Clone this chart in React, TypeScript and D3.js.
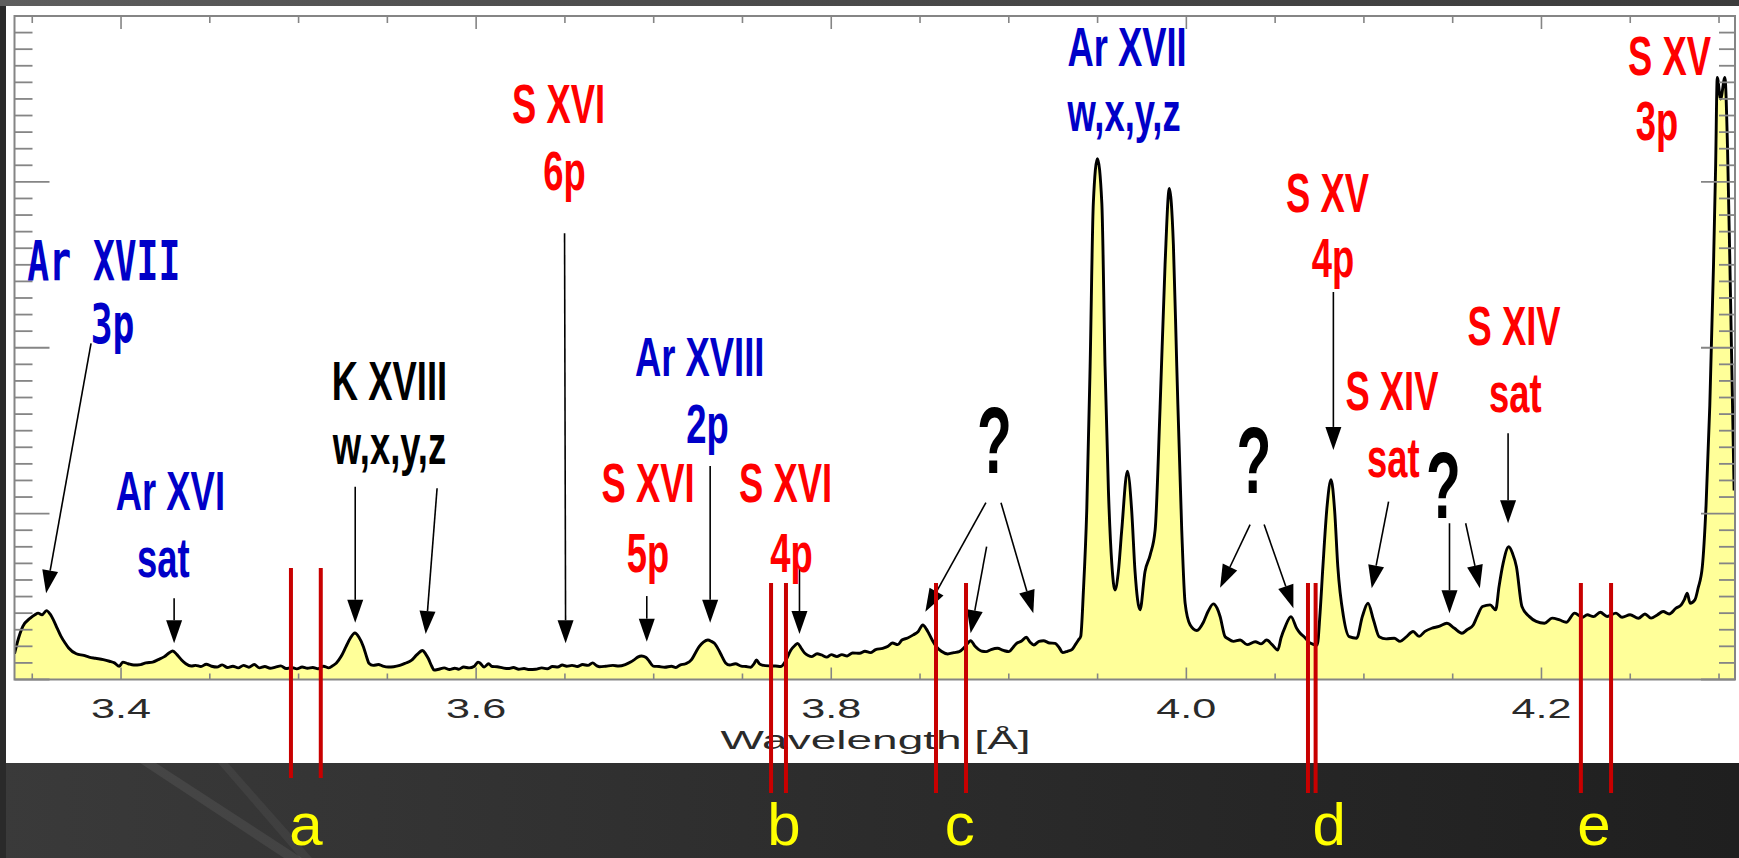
import React from "react";
import * as d3 from "d3";

const WIDTH = 1739;
const HEIGHT = 858;

// Spectrum samples: wavelength in Å and intensity in arbitrary units
const wavelength = [
  3.3400, 3.3415, 3.3447, 3.3489, 3.3515, 3.3533, 3.3555, 3.3580, 3.3600, 3.3619,
  3.3640, 3.3662, 3.3685, 3.3705, 3.3748, 3.3790, 3.3820, 3.3856, 3.3900, 3.3935,
  3.3963, 3.3990, 3.4010, 3.4040, 3.4072, 3.4110, 3.4140, 3.4178, 3.4210, 3.4244,
  3.4270, 3.4291, 3.4315, 3.4341, 3.4365, 3.4395, 3.4420, 3.4450, 3.4480, 3.4510,
  3.4540, 3.4570, 3.4600, 3.4630, 3.4660, 3.4690, 3.4720, 3.4750, 3.4780, 3.4810,
  3.4840, 3.4870, 3.4900, 3.4930, 3.4960, 3.4990, 3.5020, 3.5050, 3.5080, 3.5110,
  3.5140, 3.5170, 3.5195, 3.5213, 3.5240, 3.5267, 3.5292, 3.5317, 3.5340, 3.5365,
  3.5385, 3.5396, 3.5420, 3.5450, 3.5472, 3.5505, 3.5536, 3.5570, 3.5601, 3.5635,
  3.5665, 3.5698, 3.5715, 3.5730, 3.5750, 3.5763, 3.5790, 3.5820, 3.5850, 3.5880,
  3.5901, 3.5930, 3.5960, 3.5990, 3.6010, 3.6021, 3.6045, 3.6070, 3.6090, 3.6118,
  3.6150, 3.6180, 3.6210, 3.6240, 3.6270, 3.6300, 3.6335, 3.6370, 3.6400, 3.6430,
  3.6460, 3.6485, 3.6510, 3.6540, 3.6570, 3.6600, 3.6630, 3.6656, 3.6680, 3.6695,
  3.6730, 3.6770, 3.6803, 3.6840, 3.6870, 3.6889, 3.6910, 3.6932, 3.6955, 3.6975,
  3.6997, 3.7030, 3.7062, 3.7100, 3.7125, 3.7148, 3.7180, 3.7212, 3.7235, 3.7256,
  3.7280, 3.7305, 3.7325, 3.7342, 3.7365, 3.7385, 3.7405, 3.7428, 3.7460, 3.7493,
  3.7520, 3.7547, 3.7565, 3.7579, 3.7595, 3.7611, 3.7650, 3.7686, 3.7715, 3.7740,
  3.7773, 3.7795, 3.7811, 3.7830, 3.7848, 3.7870, 3.7891, 3.7920, 3.7945, 3.7975,
  3.8000, 3.8032, 3.8060, 3.8090, 3.8120, 3.8160, 3.8190, 3.8220, 3.8250, 3.8290,
  3.8320, 3.8345, 3.8375, 3.8398, 3.8430, 3.8462, 3.8490, 3.8516, 3.8535, 3.8549,
  3.8570, 3.8592, 3.8620, 3.8656, 3.8690, 3.8721, 3.8755, 3.8785, 3.8810, 3.8829,
  3.8850, 3.8872, 3.8900, 3.8936, 3.8970, 3.9001, 3.9025, 3.9044, 3.9070, 3.9098,
  3.9120, 3.9141, 3.9170, 3.9195, 3.9230, 3.9260, 3.9285, 3.9303, 3.9330, 3.9357,
  3.9375, 3.9392, 3.9405, 3.9420, 3.9439, 3.9458, 3.9476, 3.9499, 3.9524, 3.9542,
  3.9561, 3.9580, 3.9598, 3.9617, 3.9636, 3.9668, 3.9692, 3.9711, 3.9739, 3.9767,
  3.9796, 3.9824, 3.9852, 3.9880, 3.9904, 3.9927, 3.9946, 3.9974, 3.9993, 4.0021,
  4.0059, 4.0096, 4.0122, 4.0152, 4.0173, 4.0190, 4.0218, 4.0230, 4.0265, 4.0303,
  4.0342, 4.0388, 4.0421, 4.0452, 4.0483, 4.0515, 4.0533, 4.0557, 4.0589, 4.0621,
  4.0640, 4.0663, 4.0697, 4.0737, 4.0753, 4.0769, 4.0793, 4.0815, 4.0835, 4.0853,
  4.0885, 4.0917, 4.0959, 4.0991, 4.1023, 4.1054, 4.1086, 4.1125, 4.1171, 4.1204,
  4.1237, 4.1277, 4.1311, 4.1344, 4.1382, 4.1423, 4.1467, 4.1508, 4.1552, 4.1581,
  4.1616, 4.1638, 4.1668, 4.1711, 4.1742, 4.1761, 4.1784, 4.1816, 4.1837, 4.1859,
  4.1890, 4.1932, 4.1970, 4.2017, 4.2060, 4.2102, 4.2139, 4.2187, 4.2229, 4.2258,
  4.2293, 4.2331, 4.2370, 4.2420, 4.2454, 4.2499, 4.2546, 4.2583, 4.2617, 4.2652,
  4.2685, 4.2719, 4.2758, 4.2787, 4.2804, 4.2821, 4.2837, 4.2864, 4.2882, 4.2906,
  4.2927, 4.2948, 4.2969, 4.2981, 4.2990, 4.3009, 4.3033, 4.3048, 4.3065, 4.3085,
];

const intensity = [
  1.55, 2.2, 3.2, 3.7, 3.9, 4.0, 3.9, 4.15, 3.95, 3.6,
  3.1, 2.6, 2.2, 1.9, 1.55, 1.45, 1.35, 1.28, 1.2, 1.1,
  1.0, 0.8, 1.05, 0.95, 0.87, 0.9, 1.0, 1.05, 1.2, 1.38,
  1.6, 1.72, 1.5, 1.18, 0.95, 0.81, 0.85, 0.78, 0.92, 0.8,
  0.75, 0.88, 0.72, 0.8, 0.7, 0.85, 0.74, 0.9, 0.7, 0.78,
  0.68, 0.75, 0.82, 0.66, 0.72, 0.64, 0.75, 0.68, 0.72, 0.65,
  0.8, 0.7, 0.85, 1.0, 1.4, 1.98, 2.5, 2.8, 2.55, 1.98,
  1.3, 0.98, 0.85, 0.9, 0.82, 0.75, 0.77, 0.85, 0.98, 1.15,
  1.48, 1.75, 1.55, 1.28, 0.8, 0.57, 0.62, 0.7, 0.6, 0.68,
  0.62, 0.75, 0.7, 0.8, 1.05, 1.0, 0.75, 0.95, 0.78, 0.77,
  0.7, 0.66, 0.72, 0.62, 0.66, 0.6, 0.62, 0.7, 0.65, 0.78,
  0.75, 0.87, 0.8, 0.85, 0.78, 0.9, 0.85, 1.0, 0.82, 0.77,
  0.8, 0.85, 0.81, 0.9, 1.05, 1.18, 1.35, 1.42, 1.34, 1.1,
  0.81, 0.78, 0.74, 0.8, 0.72, 0.87, 0.95, 1.18, 1.6, 1.98,
  2.25, 2.38, 2.3, 2.18, 1.8, 1.38, 1.0, 0.87, 0.95, 0.81,
  0.78, 0.74, 0.95, 1.18, 0.95, 0.87, 0.82, 0.81, 0.78, 1.07,
  1.78, 2.05, 2.18, 1.9, 1.62, 1.45, 1.38, 1.55, 1.48, 1.35,
  1.5, 1.38, 1.5, 1.42, 1.6, 1.58, 1.7, 1.62, 1.8, 1.88,
  2.0, 2.2, 2.1, 2.38, 2.5, 2.69, 2.9, 3.29, 3.05, 2.79,
  2.35, 1.98, 1.7, 1.54, 1.62, 1.68, 2.0, 2.34, 2.0, 1.82,
  1.7, 1.68, 1.8, 1.88, 1.75, 1.68, 1.95, 2.18, 2.3, 2.55,
  2.25, 2.08, 2.3, 2.34, 2.2, 2.18, 1.9, 1.62, 1.7, 1.82,
  2.1, 2.38, 2.6, 5.3, 10.2, 18.9, 28.7, 31.4, 28.7, 18.9,
  11.4, 7.0, 5.4, 6.5, 9.0, 12.56, 10.2, 6.5, 4.2, 6.5,
  7.5, 9.0, 16.4, 25.0, 29.6, 26.2, 18.9, 9.0, 4.6, 3.3,
  2.95, 3.45, 4.1, 4.56, 4.3, 3.8, 2.58, 2.49, 2.3, 2.38,
  2.1, 2.28, 2.15, 2.38, 2.1, 1.78, 2.5, 3.19, 3.79, 3.09,
  2.8, 2.58, 2.2, 2.08, 4.0, 6.8, 10.5, 12.04, 10.2, 6.8,
  3.79, 2.58, 2.49, 3.79, 4.6, 3.59, 2.58, 2.45, 2.49, 2.3,
  2.55, 2.89, 2.6, 2.9, 3.09, 3.2, 3.39, 3.1, 2.79, 3.0,
  3.29, 3.8, 4.4, 4.5, 4.2, 5.6, 7.0, 8.0, 7.6, 6.8,
  4.4, 3.79, 3.5, 3.39, 3.7, 3.59, 3.45, 4.0, 3.75, 3.9,
  3.79, 4.05, 3.8, 4.0, 3.75, 3.9, 3.69, 3.95, 3.7, 3.89,
  4.1, 3.95, 4.3, 4.5, 4.8, 5.2, 4.6, 4.8, 5.5, 6.8,
  10.5, 16.5, 25.0, 31.0, 36.3, 35.0, 36.3, 32.0, 22.9, 11.4,
];

// Axis ticks
const xLabelTicks = [3.4, 3.6, 3.8, 4.0, 4.2];
const xMinorTicks = d3.range(67, 87).map((i) => +(i * 0.05).toFixed(2));
const yTicks = d3.range(0, 41);
const yMajorStep = 10;

// Line identifications: ion name, transition, anchor positions (Å, intensity)
const ionNames = ["Ar XVII", "Ar XVI", "K XVIII", "S XVI", "S XVI", "Ar XVIII", "S XVI", "Ar XVII", "S XV", "S XIV", "S XIV", "S XV"];
const transitions = ["3p", "sat", "w,x,y,z", "6p", "5p", "2p", "4p", "w,x,y,z", "4p", "sat", "sat", "3p"];
const ionWl = [3.3903, 3.4278, 3.5512, 3.6464, 3.6968, 3.7259, 3.7743, 3.9666, 4.0795, 4.1158, 4.1846, 4.2721];
const ionLevel = [24.08, 10.22, 16.85, 33.53, 10.72, 18.30, 10.72, 37.0, 28.18, 16.25, 20.17, 36.44];
const transWl = [3.3952, 3.4238, 3.5512, 3.6498, 3.6968, 3.7303, 3.7776, 3.9649, 4.0826, 4.1166, 4.1853, 4.2651];
const transLevel = [20.27, 6.20, 13.02, 29.51, 6.50, 14.26, 6.50, 33.09, 24.27, 12.23, 16.14, 32.52];

// Unidentified features
const unknownWl = [3.8919, 4.0381, 4.1448];
const unknownLevel = [12.43, 11.23, 9.74];

// Pointer arrows: [from Å, from level, to Å, to level]
const pointers: [number, number, number, number][] = [
  [3.3831, 20.27, 3.3578, 5.20],
  [3.4299, 4.90, 3.4299, 2.18],
  [3.5319, 11.62, 3.5319, 3.42],
  [3.5780, 11.53, 3.5716, 2.74],
  [3.6498, 26.90, 3.6504, 2.18],
  [3.6961, 5.03, 3.6961, 2.28],
  [3.7318, 12.87, 3.7318, 3.42],
  [3.7821, 6.80, 3.7821, 2.74],
  [3.8871, 10.66, 3.8530, 4.09],
  [3.8875, 8.01, 3.8785, 2.79],
  [3.8956, 10.66, 3.9138, 3.99],
  [4.0359, 9.34, 4.0190, 5.53],
  [4.0438, 9.34, 4.0603, 4.30],
  [4.0828, 23.36, 4.0828, 13.84],
  [4.1139, 10.72, 4.1044, 5.50],
  [4.1482, 9.42, 4.1482, 3.99],
  [4.1573, 9.42, 4.1653, 5.50],
  [4.1812, 14.84, 4.1812, 9.42],
];

// Marked wavelength windows
const windowNames = ["a", "b", "c", "d", "e"];
const windowStart = [3.4957, 3.7661, 3.8590, 4.0685, 4.2222];
const windowEnd = [3.5125, 3.7745, 3.8759, 4.0728, 4.2392];
const windowLabelWl = [3.5042, 3.7734, 3.8724, 4.0804, 4.2296];

const elementColor: Record<string, string> = { Ar: "#0000c8", S: "#ff0000", K: "#000000" };

const PLOT = { left: 14.5, right: 1735, top: 16, bottom: 679.5 };

function arrowParts(x1: number, y1: number, x2: number, y2: number, len = 23, half = 8) {
  const dx = x2 - x1;
  const dy = y2 - y1;
  const L = Math.hypot(dx, dy);
  const ux = dx / L;
  const uy = dy / L;
  const bx = x2 - ux * len;
  const by = y2 - uy * len;
  const px = -uy;
  const py = ux;
  return {
    line: [x1, y1, bx, by],
    head: `${x2},${y2} ${bx + px * half},${by + py * half} ${bx - px * half},${by - py * half}`,
  };
}

export default function App() {
  const x = d3.scaleLinear().domain([3.34, 4.309]).range([PLOT.left, PLOT.right]);
  const y = d3.scaleLinear().domain([0, 40]).range([PLOT.bottom, PLOT.top]);

  const points: [number, number][] = wavelength.map((w, i) => [w, intensity[i]]);
  const area = d3
    .area<[number, number]>()
    .x((d) => x(d[0]))
    .y0(y(0))
    .y1((d) => y(d[1]))
    .curve(d3.curveMonotoneX);
  const line = d3
    .line<[number, number]>()
    .x((d) => x(d[0]))
    .y((d) => y(d[1]))
    .curve(d3.curveMonotoneX);

  const labelFont = "'Liberation Sans', Arial, Helvetica, sans-serif";
  const monoFont = "'DejaVu Sans Mono', monospace";
  const axisGray = "#858585";

  return (
    <svg
      width={WIDTH}
      height={HEIGHT}
      viewBox={`0 0 ${WIDTH} ${HEIGHT}`}
      style={{ position: "absolute", left: 0, top: 0, display: "block" }}
    >
      <defs>
        <linearGradient id="bgGrad" x1="0" y1="0" x2="1" y2="0">
          <stop offset="0" stopColor="#3a3a3a" />
          <stop offset="0.5" stopColor="#2c2c2c" />
          <stop offset="1" stopColor="#1f1f1f" />
        </linearGradient>
        <linearGradient id="topGrad" x1="0" y1="0" x2="1" y2="0">
          <stop offset="0" stopColor="#5e5e5e" />
          <stop offset="0.3" stopColor="#4f4f4f" />
          <stop offset="1" stopColor="#3c3c3c" />
        </linearGradient>
        <clipPath id="plotClip">
          <rect x={PLOT.left} y={PLOT.top} width={PLOT.right - PLOT.left} height={PLOT.bottom - PLOT.top} />
        </clipPath>
      </defs>

      {/* slide background */}
      <rect x={0} y={0} width={WIDTH} height={HEIGHT} fill="url(#bgGrad)" />
      <rect x={0} y={0} width={6} height={HEIGHT} fill="#2a2a2a" />
      <rect x={0} y={0} width={WIDTH} height={6} fill="url(#topGrad)" />
      <polygon points="140,763 156,763 302,858 284,858" fill="rgba(255,255,255,0.07)" />
      <polygon points="218,763 228,763 312,858 300,858" fill="rgba(255,255,255,0.05)" />

      {/* white figure panel */}
      <rect x={6} y={6} width={WIDTH - 6} height={757} fill="#ffffff" />

      {/* spectrum */}
      <g clipPath="url(#plotClip)">
        <path d={area(points) ?? ""} fill="#ffff99" />
        <path d={line(points) ?? ""} fill="none" stroke="#000" strokeWidth={2.9} strokeLinejoin="round" />
      </g>

      {/* frame and ticks */}
      <rect
        x={PLOT.left}
        y={PLOT.top}
        width={PLOT.right - PLOT.left}
        height={PLOT.bottom - PLOT.top}
        fill="none"
        stroke={axisGray}
        strokeWidth={2}
      />
      {xMinorTicks.map((t) => {
        const major = xLabelTicks.some((m) => Math.abs(m - t) < 1e-6);
        const xx = x(t);
        return (
          <g key={`xt${t}`} stroke={axisGray} strokeWidth={1.6}>
            <line x1={xx} x2={xx} y1={PLOT.bottom} y2={PLOT.bottom - (major ? 12 : 6)} />
            <line x1={xx} x2={xx} y1={PLOT.top} y2={PLOT.top + (major ? 13 : 7)} />
          </g>
        );
      })}
      {yTicks.map((t) => {
        const major = t % yMajorStep === 0;
        const yy = y(t);
        return (
          <g key={`yt${t}`} stroke={axisGray} strokeWidth={1.8}>
            <line x1={PLOT.left} x2={PLOT.left + (major ? 35 : 18)} y1={yy} y2={yy} />
            <line x1={PLOT.right} x2={PLOT.right - (major ? 34 : 16)} y1={yy} y2={yy} />
          </g>
        );
      })}
      {xLabelTicks.map((t) => (
        <text
          key={`xl${t}`}
          transform={`translate(${x(t)},718) scale(1.6,1)`}
          textAnchor="middle"
          fontFamily={labelFont}
          fontSize={27}
          fill="#2a2a2a"
        >
          {d3.format(".1f")(t)}
        </text>
      ))}
      <text
        transform={`translate(875.5,748.5) scale(1.77,1)`}
        textAnchor="middle"
        fontFamily={labelFont}
        fontSize={26}
        fill="#2a2a2a"
      >
        Wavelength [Å]
      </text>

      {/* pointer arrows */}
      {pointers.map((p, i) => {
        const a = arrowParts(x(p[0]), y(p[1]), x(p[2]), y(p[3]));
        return (
          <g key={`ar${i}`}>
            <line x1={a.line[0]} y1={a.line[1]} x2={a.line[2]} y2={a.line[3]} stroke="#000" strokeWidth={1.6} />
            <polygon points={a.head} fill="#000" />
          </g>
        );
      })}

      {/* line identifications */}
      {ionNames.map((name, i) => {
        const color = elementColor[name.split(" ")[0]];
        const mono = i === 0;
        const fam = mono ? monoFont : labelFont;
        const fs = mono ? 55 : 56;
        const sx = mono ? 0.66 : 0.65;
        return (
          <g key={`lab${i}`} fill={color} fontFamily={fam} fontWeight="bold" fontSize={fs} textAnchor="middle">
            <text transform={`translate(${x(ionWl[i])},${y(ionLevel[i])}) scale(${sx},1)`}>{name}</text>
            <text transform={`translate(${x(transWl[i])},${y(transLevel[i])}) scale(${sx},1)`}>{transitions[i]}</text>
          </g>
        );
      })}
      {unknownWl.map((w, i) => (
        <text
          key={`q${i}`}
          transform={`translate(${x(w)},${y(unknownLevel[i])}) scale(0.6,1)`}
          textAnchor="middle"
          fontFamily={labelFont}
          fontWeight="bold"
          fontSize={95}
          fill="#000"
        >
          ?
        </text>
      ))}

      {/* wavelength windows */}
      {windowNames.map((n, i) => {
        const y1 = i === 0 ? 568 : 583;
        const y2 = i === 0 ? 778 : 793;
        return (
          <g key={`w${n}`}>
            <line x1={x(windowStart[i])} x2={x(windowStart[i])} y1={y1} y2={y2} stroke="#c80000" strokeWidth={4} />
            <line x1={x(windowEnd[i])} x2={x(windowEnd[i])} y1={y1} y2={y2} stroke="#c80000" strokeWidth={4} />
            <text
              x={x(windowLabelWl[i])}
              y={845}
              textAnchor="middle"
              fontFamily={labelFont}
              fontSize={60}
              fill="#ffff00"
            >
              {n}
            </text>
          </g>
        );
      })}
    </svg>
  );
}
